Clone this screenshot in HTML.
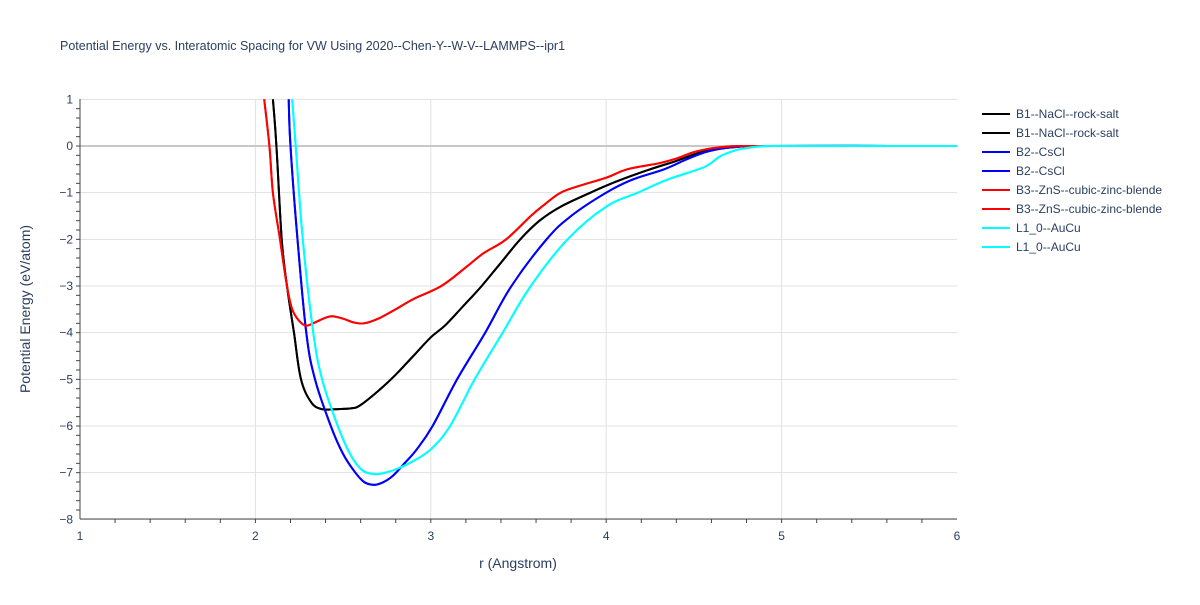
<!DOCTYPE html>
<html><head><meta charset="utf-8"><style>
body{margin:0;background:#fff;font-family:"Liberation Sans",sans-serif}
svg text{font-family:"Liberation Sans",sans-serif;fill:#2a3f5f}
</style></head><body>
<svg id="chart" width="1200" height="600">
<defs><clipPath id="clip"><rect x="80" y="99" width="877" height="420"/></clipPath></defs>
<text x="60" y="50" font-size="12.5">Potential Energy vs. Interatomic Spacing for VW Using 2020--Chen-Y--W-V--LAMMPS--ipr1</text>
<g id="grid"></g><g id="axes"></g><g id="series" clip-path="url(#clip)"></g><g id="legend"></g>
<text x="518" y="568" font-size="14" text-anchor="middle">r (Angstrom)</text>
<text transform="translate(30,309) rotate(-90)" font-size="14" text-anchor="middle">Potential Energy (eV/atom)</text>
</svg>
<script>
const xTicks=[1,2,3,4,5,6];
const yTicks=[1,0,-1,-2,-3,-4,-5,-6,-7,-8];
const names=["B1--NaCl--rock-salt","B2--CsCl","B3--ZnS--cubic-zinc-blende","L1_0--AuCu"];
const colors=["#000000","#0000ff","#ff0000","#00ffff"];
const b1R=[2.10,2.12,2.15,2.18,2.22,2.26,2.32,2.38,2.45,2.55,2.60,2.7,2.8,2.9,3.0,3.08,3.18,3.29,3.4,3.51,3.62,3.74,3.91,4.0,4.1,4.25,4.4,4.5,4.6,4.7,4.8,6];
const b1E=[1,0,-2,-3,-4,-5,-5.5,-5.64,-5.64,-5.62,-5.55,-5.25,-4.9,-4.5,-4.1,-3.85,-3.45,-3.0,-2.5,-2.0,-1.6,-1.3,-1.0,-0.85,-0.7,-0.5,-0.32,-0.18,-0.08,-0.03,0,0];
const b2R=[2.19,2.20,2.24,2.29,2.34,2.43,2.50,2.57,2.62,2.67,2.72,2.78,2.85,2.92,3.01,3.15,3.31,3.46,3.66,3.8,4.0,4.15,4.33,4.45,4.55,4.65,4.75,4.85,6];
const b2E=[1,0,-2,-4,-5,-6,-6.6,-7.0,-7.2,-7.26,-7.22,-7.08,-6.8,-6.5,-6.0,-5.0,-4.0,-3.0,-2.0,-1.5,-1.0,-0.72,-0.5,-0.3,-0.15,-0.06,-0.02,0,0];
const b3R=[2.05,2.08,2.10,2.14,2.18,2.21,2.25,2.29,2.34,2.40,2.44,2.50,2.56,2.62,2.70,2.8,2.9,3.06,3.2,3.3,3.43,3.57,3.65,3.74,3.85,4.0,4.12,4.3,4.4,4.5,4.6,4.7,4.8,6];
const b3E=[1,0,-1,-2,-3,-3.5,-3.75,-3.85,-3.78,-3.68,-3.65,-3.7,-3.78,-3.8,-3.7,-3.5,-3.28,-3.0,-2.6,-2.3,-2.0,-1.5,-1.25,-1.0,-0.85,-0.68,-0.5,-0.37,-0.27,-0.13,-0.05,-0.01,0,0];
const l10R=[2.21,2.23,2.27,2.33,2.38,2.47,2.54,2.61,2.69,2.76,2.82,2.9,3.0,3.11,3.25,3.41,3.57,3.78,4.0,4.18,4.35,4.56,4.65,4.75,4.85,4.95,6];
const l10E=[1,0,-2,-4,-5,-6,-6.6,-6.95,-7.03,-6.98,-6.9,-6.75,-6.5,-6.0,-5.0,-4.0,-3.0,-2.0,-1.3,-1.0,-0.72,-0.45,-0.22,-0.08,-0.02,0,0];
const X=r=>80+(r-1)*175.4, Y=e=>146-e*46.667;
const NS="http://www.w3.org/2000/svg";
function mk(tag,attrs,parent,text){const el=document.createElementNS(NS,tag);for(const k in attrs)el.setAttribute(k,attrs[k]);if(text!==undefined)el.textContent=text;document.getElementById(parent).appendChild(el);return el;}
function smooth(pts){
  let d='M'+pts[0][0].toFixed(1)+','+pts[0][1].toFixed(1);
  const t=0.35;
  for(let i=0;i<pts.length-1;i++){
    const p0=pts[Math.max(i-1,0)],p1=pts[i],p2=pts[i+1],p3=pts[Math.min(i+2,pts.length-1)];
    let c1x=p1[0]+(p2[0]-p0[0])*t/2*1, c1y=p1[1]+(p2[1]-p0[1])*t/2;
    let c2x=p2[0]-(p3[0]-p1[0])*t/2, c2y=p2[1]-(p3[1]-p1[1])*t/2;
    // clamp control points within segment bounds to avoid overshoot
    const lo=Math.min(p1[0],p2[0]),hi=Math.max(p1[0],p2[0]);
    c1x=Math.min(hi,Math.max(lo,c1x));c2x=Math.min(hi,Math.max(lo,c2x));
    d+='C'+c1x.toFixed(1)+','+c1y.toFixed(1)+' '+c2x.toFixed(1)+','+c2y.toFixed(1)+' '+p2[0].toFixed(1)+','+p2[1].toFixed(1);
  }
  return d;
}
xTicks.forEach(t=>{
  if(t>1&&t<6){const g=mk('line',{x1:X(t),x2:X(t),y1:99,y2:519,stroke:'#e1e1e1'},'grid');
  
  }
  const l=mk('text',{x:X(t),y:540,'font-size':12,'text-anchor':'middle'},'axes',String(t));
  
  
});
for(let r=1.2;r<6;r+=0.2){const m=mk('line',{x1:X(r),x2:X(r),y1:519,y2:523,stroke:'#444'},'axes');

}
yTicks.forEach(t=>{
  const g=mk('line',{x1:80,x2:957,y1:Y(t),y2:Y(t),stroke:t===0?'#c8c8c8':'#e1e1e1','stroke-width':t===0?2:1},'grid');
  
  
  const l=mk('text',{x:73,y:Y(t)+4,'font-size':12,'text-anchor':'end'},'axes',String(t).replace('-','−'));
  
  
});
for(let e=0.8;e>-8;e-=0.2){const m=mk('line',{x1:76,x2:80,y1:Y(e),y2:Y(e),stroke:'#444'},'axes');

}
const xa=mk('line',{x1:80,x2:957,y1:519,y2:519,stroke:'#444'},'axes');


const ya=mk('line',{x1:80,x2:80,y1:99,y2:519,stroke:'#444'},'axes');


const data=[[b1R,b1E],[b2R,b2E],[b3R,b3E],[l10R,l10E]];
let li=0;
[0,1,2,3].forEach(i=>{
  for(let k=0;k<2;k++){
    const pts=data[i][0].map((r,j)=>[X(r),Y(data[i][1][j])]);
    const p=mk('path',{d:smooth(pts),fill:'none',stroke:colors[i],'stroke-width':2,'stroke-linejoin':'round'},'series');
    
    
    const y=114+li*19;
    const ll=mk('line',{x1:982,x2:1010,y1:y,y2:y,stroke:colors[i],'stroke-width':2},'legend');
    
    
    const lt=mk('text',{x:1016,y:y+4,'font-size':12},'legend',names[i]);
    
    
    li++;
  }
});
</script>
</body></html>
